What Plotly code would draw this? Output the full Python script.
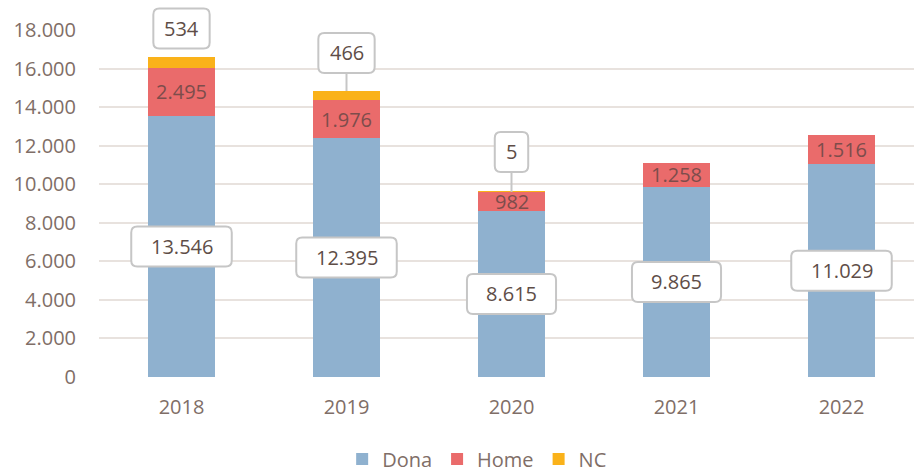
import plotly.graph_objects as go

years = ['2018', '2019', '2020', '2021', '2022']
dona = [13546, 12395, 8615, 9865, 11029]
home = [2495, 1976, 982, 1258, 1516]
nc = [534, 466, 5, 0, 0]
tick_vals = [0, 2000, 4000, 6000, 8000, 10000, 12000, 14000, 16000, 18000]
tick_text = ['0', '2.000', '4.000', '6.000', '8.000', '10.000', '12.000', '14.000', '16.000', '18.000']

Y_MAX = 18000
# label styling (pixel offsets of NC callouts above bar tops)
nc_label_offset = [29, 38, 40, 38, 38]

FONT = 'Open Sans'
FS = 20
LABEL_COLOR = '#5e4d47'
TICK_COLOR = '#7f6e67'
GRID = '#e8e2de'
BOX_BORDER = '#c6c6c6'

C_DONA = '#8fb1cf'
C_HOME = '#ea6b6b'
C_NC = '#fab21a'


def fmt(v):
    return f"{v:,}".replace(',', '.')


def text_w(s):
    w = 0
    for ch in s:
        w += 0.266 * FS if ch == '.' else 0.572 * FS
    return w


def rrect(w, h, cy=0.0, r=6):
    x0, x1 = -w / 2, w / 2
    y0, y1 = cy - h / 2, cy + h / 2
    return (f"M{x0 + r},{y0} L{x1 - r},{y0} Q{x1},{y0} {x1},{y0 + r} "
            f"L{x1},{y1 - r} Q{x1},{y1} {x1 - r},{y1} L{x0 + r},{y1} "
            f"Q{x0},{y1} {x0},{y1 - r} L{x0},{y0 + r} Q{x0},{y0} {x0 + r},{y0} Z")


fig = go.Figure()
fig.add_trace(go.Bar(x=years, y=dona, name='Dona', marker=dict(color=C_DONA, line=dict(width=0))))
fig.add_trace(go.Bar(x=years, y=home, name='Home', marker=dict(color=C_HOME, line=dict(width=0))))
fig.add_trace(go.Bar(x=years, y=nc, name='NC', marker=dict(color=C_NC, line=dict(width=0))))

shapes = []
annotations = []
BOX_H = 40
for i, yr in enumerate(years):
    # Dona label: boxed, centred in segment
    s = fmt(dona[i])
    w = text_w(s) + 38
    shapes.append(dict(type='path', xref='x', yref='y', xsizemode='pixel', ysizemode='pixel',
                       xanchor=i, yanchor=dona[i] / 2, path=rrect(w, BOX_H),
                       fillcolor='white', line=dict(color=BOX_BORDER, width=2), layer='above'))
    annotations.append(dict(x=i, y=dona[i] / 2, xref='x', yref='y', text=s, showarrow=False,
                            font=dict(family=FONT, size=FS, color=LABEL_COLOR)))
    # Home label: plain, centred in segment
    annotations.append(dict(x=i, y=dona[i] + home[i] / 2, xref='x', yref='y', text=fmt(home[i]),
                            showarrow=False, font=dict(family=FONT, size=FS, color='#7d4d4b')))
    # NC label: boxed callout above bar (paper y-ref so it is not clipped by the plot area)
    if nc[i] > 0:
        top = dona[i] + home[i] + nc[i]
        top_paper = top / Y_MAX
        off = nc_label_offset[i]
        s = fmt(nc[i])
        w = text_w(s) + 22
        gap = off - BOX_H / 2
        if gap > 10:
            shapes.append(dict(type='line', xref='x', yref='paper', xsizemode='pixel', ysizemode='pixel',
                               xanchor=i, yanchor=top_paper, x0=0, x1=0, y0=0, y1=gap,
                               line=dict(color=BOX_BORDER, width=2), layer='above'))
        shapes.append(dict(type='path', xref='x', yref='paper', xsizemode='pixel', ysizemode='pixel',
                           xanchor=i, yanchor=top_paper, path=rrect(w, BOX_H, cy=off),
                           fillcolor='white', line=dict(color=BOX_BORDER, width=2), layer='above'))
        annotations.append(dict(x=i, y=top, xref='x', yref='y', text=s, showarrow=False, yshift=off,
                                font=dict(family=FONT, size=FS, color=LABEL_COLOR)))

fig.update_layout(
    width=914, height=472,
    margin=dict(l=99, r=0, t=30, b=95),
    paper_bgcolor='white', plot_bgcolor='white',
    barmode='stack', bargap=1 - 67 / 165,
    font=dict(family=FONT, size=FS, color=TICK_COLOR),
    showlegend=True,
    legend=dict(orientation='h', x=0.464, xanchor='center', xref='paper',
                y=13 / 472, yanchor='middle', yref='container',
                font=dict(family=FONT, size=FS, color=TICK_COLOR), itemwidth=30,
                traceorder='normal', bgcolor='rgba(0,0,0,0)'),
    shapes=shapes, annotations=annotations,
)
fig.update_xaxes(type='category', range=[-0.5, -0.5 + 815 / 165], showgrid=False, zeroline=False,
                 showline=False, ticks='', ticklabelstandoff=16,
                 tickfont=dict(family=FONT, size=FS, color=TICK_COLOR))
fig.update_yaxes(range=[0, Y_MAX], tickvals=tick_vals, ticktext=tick_text, showgrid=True,
                 gridcolor=GRID, gridwidth=1.5, zeroline=False, showline=False, ticks='',
                 ticklabelstandoff=22, tickfont=dict(family=FONT, size=FS, color=TICK_COLOR))

fig.write_html("out.html", config={'displayModeBar': False},
               post_script="document.body.style.margin='0';")
